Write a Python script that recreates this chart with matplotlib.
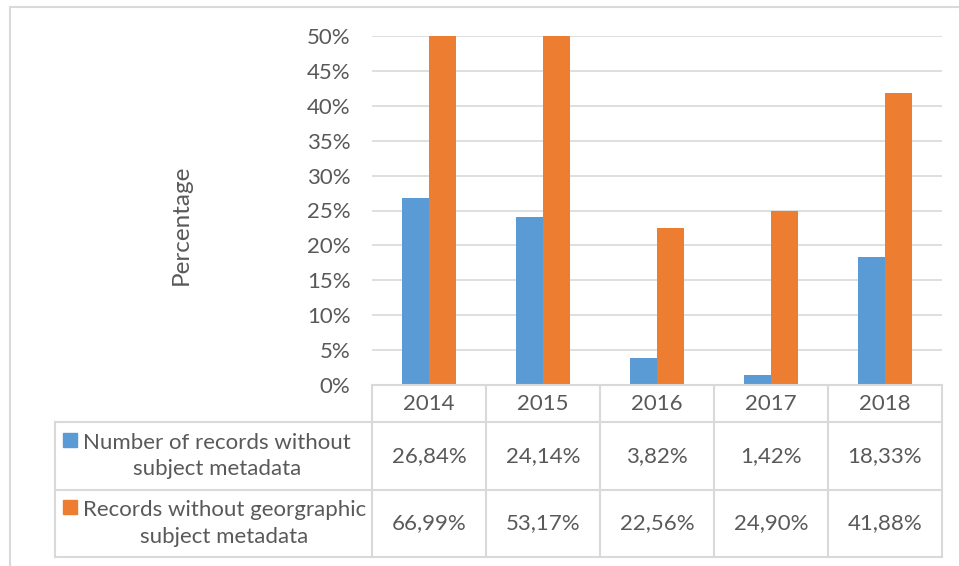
import matplotlib

matplotlib.use("Agg")
import matplotlib.pyplot as plt
from matplotlib.patches import Rectangle
from matplotlib.lines import Line2D
import numpy as np

years = ["2014", "2015", "2016", "2017", "2018"]
no_subject = [26.84, 24.14, 3.82, 1.42, 18.33]
no_geo = [66.99, 53.17, 22.56, 24.90, 41.88]
series_names = ["Number of records without\nsubject metadata",
                "Records without georgraphic\nsubject metadata"]
colors = ["#5B9BD5", "#ED7D31"]

plt.rcParams["font.family"] = ["Lato", "DejaVu Sans"]
TXT = "#595959"
GRID = "#d9d9d9"
FS = 16

W, H = 959, 566
fig = plt.figure(figsize=(W / 100, H / 100), dpi=100)


def fx(x):
    return x / W


def fy(y):
    return 1 - y / H


# plot area in pixels
left, right, top, bottom = 372, 942, 36, 385
ax = fig.add_axes([fx(left), fy(bottom), fx(right) - fx(left), fy(top) - fy(bottom)])

x = np.arange(len(years))
bw = 0.237
ax.bar(x - bw / 2, no_subject, bw, color=colors[0], zorder=3)
ax.bar(x + bw / 2, no_geo, bw, color=colors[1], zorder=3)
ax.set_xlim(-0.5, len(years) - 0.5)
ax.set_ylim(0, 50)
ax.set_yticks(np.arange(0, 51, 5))
ax.set_yticklabels([f"{v}%" for v in range(0, 51, 5)])
ax.tick_params(axis="y", length=0, pad=15.5, labelsize=FS, labelcolor=TXT)
ax.set_xticks([])
ax.grid(axis="y", color=GRID, lw=1.2, zorder=0)
for s in ax.spines.values():
    s.set_visible(False)
fig.text(fx(181), fy(225), "Percentage", rotation=90, ha="center", va="center",
         fontsize=17.5, color=TXT)

# data table
col_w = (right - left) / len(years)
row_edges = [385, 422, 490, 557]
tleft = 55


def hline(y, x0, x1):
    fig.add_artist(Line2D([fx(x0), fx(x1)], [fy(y), fy(y)], color=GRID, lw=1.5))


def vline(x0, y0, y1):
    fig.add_artist(Line2D([fx(x0), fx(x0)], [fy(y0), fy(y1)], color=GRID, lw=1.5))


hline(row_edges[0], left, right)
for y in row_edges[1:]:
    hline(y, tleft, right)
for i in range(len(years) + 1):
    vline(left + i * col_w, row_edges[0], row_edges[-1])
vline(tleft, row_edges[1], row_edges[-1])

for i, yr in enumerate(years):
    cx = left + (i + 0.5) * col_w
    fig.text(fx(cx), fy((row_edges[0] + row_edges[1]) / 2), yr,
             ha="center", va="center", fontsize=FS, color=TXT)
    for r, vals in enumerate([no_subject, no_geo]):
        cy = (row_edges[r + 1] + row_edges[r + 2]) / 2
        fig.text(fx(cx), fy(cy), f"{vals[i]:.2f}%".replace(".", ","),
                 ha="center", va="center", fontsize=FS, color=TXT)

line_gap = 33
for r, name in enumerate(series_names):
    cy = (row_edges[r + 1] + row_edges[r + 2]) / 2
    fig.text(fx(83), fy(cy), name, ha="left", va="center", fontsize=FS,
             color=TXT, multialignment="center", linespacing=1.42)
    my = cy - line_gap / 2
    fig.add_artist(Rectangle((fx(63), fy(my + 7)), fx(14), 14 / H,
                             color=colors[r], transform=fig.transFigure))

# outer frame
fig.add_artist(Line2D([fx(9.5), fx(9.5)], [fy(7), 0], color=GRID, lw=1.5))
fig.add_artist(Line2D([fx(9.5), 1], [fy(7), fy(7)], color=GRID, lw=1.5))

fig.savefig("out.png", dpi=100)
